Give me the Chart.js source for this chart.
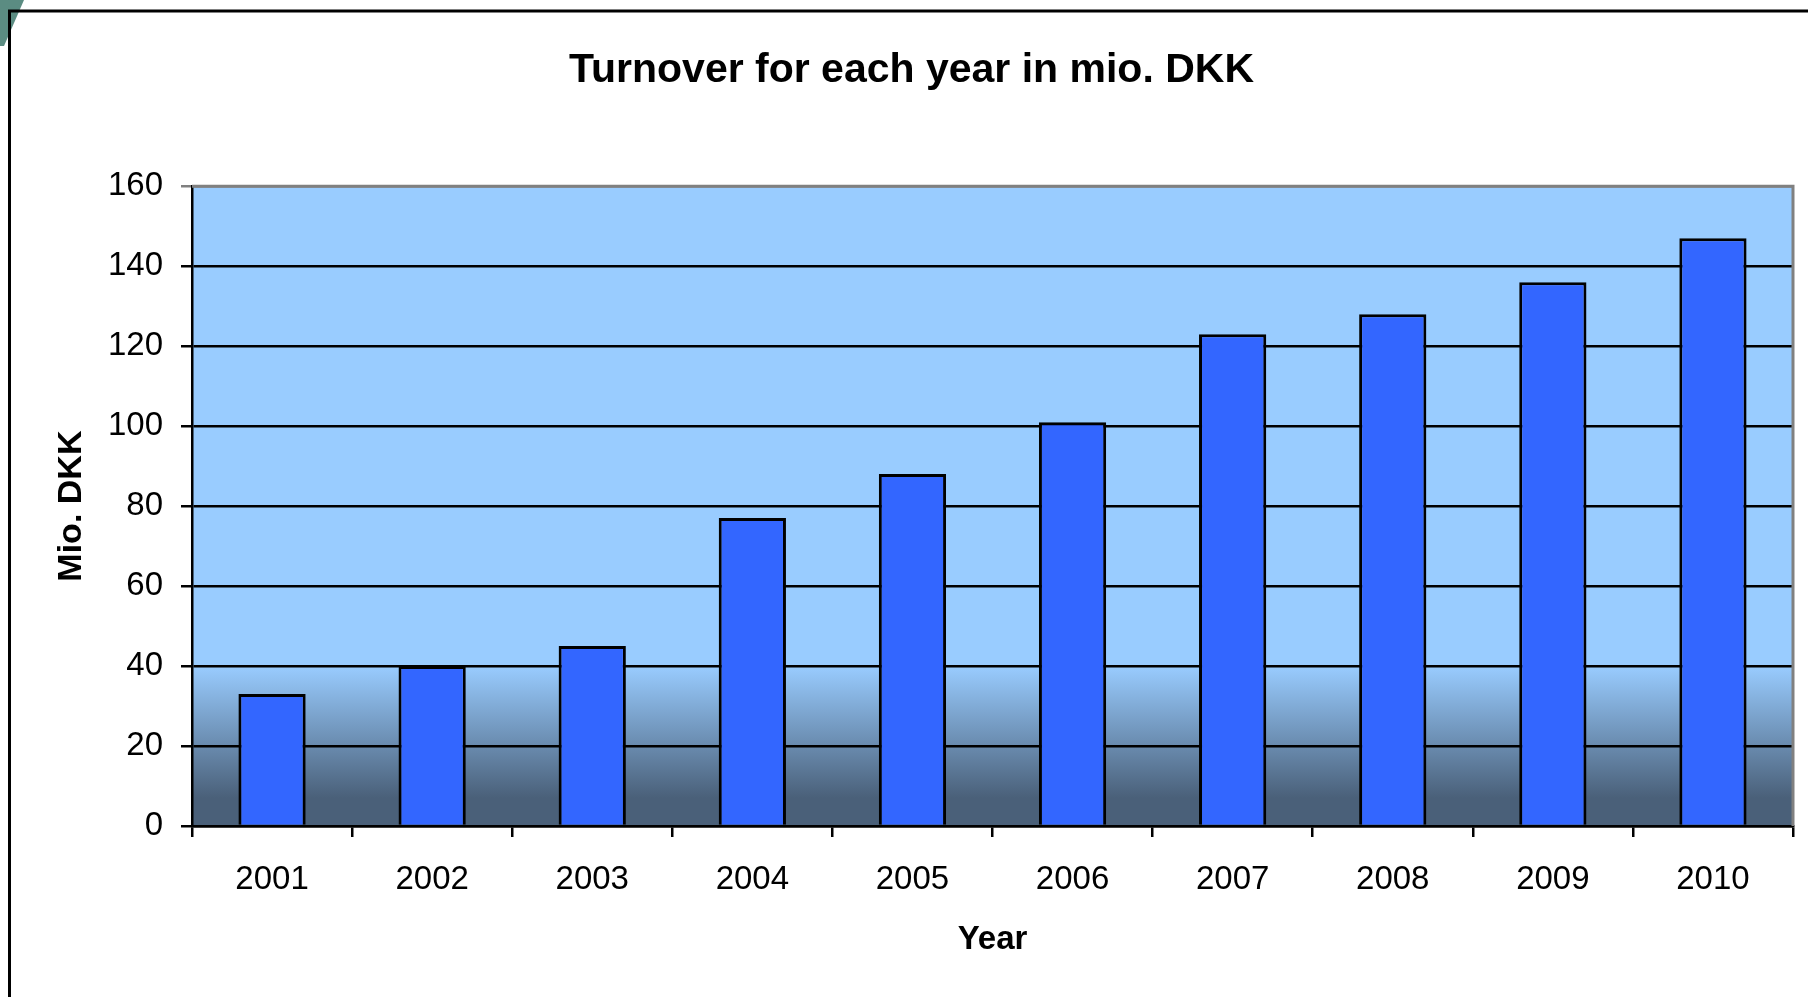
<!DOCTYPE html>
<html>
<head>
<meta charset="utf-8">
<title>Turnover for each year in mio. DKK</title>
<script src="https://cdn.jsdelivr.net/npm/chart.js@4.4.1/dist/chart.umd.min.js"></script>
<style>
    body { margin: 0; background: #ffffff; }
    canvas { display: block; }
</style>
</head>
<body>
<canvas id="grafico" width="1808" height="997"></canvas>
<script>
// omsaetning pr. aar
const years = ['2001', '2002', '2003', '2004', '2005', '2006', '2007', '2008', '2009', '2010']
const turnover = [33, 40, 45, 77, 88, 101, 123, 128, 136, 147]
const yTicks = [0, 20, 40, 60, 80, 100, 120, 140, 160]

const fuente = "'Liberation Sans', Arial, sans-serif"

// marco de la diapositiva + fondo con degradado del area
const fondo = {
    id: 'fondo',
    beforeDraw(chart) {
        const c = chart.ctx
        const area = chart.chartArea
        const y = chart.scales.y
        c.save()
        c.fillStyle = '#ffffff'
        c.fillRect(0, 0, chart.width, chart.height)

        // esquina verde
        c.fillStyle = '#5b8c82'
        c.beginPath()
        c.moveTo(0, 0)
        c.lineTo(24, 0)
        c.lineTo(4, 46)
        c.lineTo(0, 46)
        c.closePath()
        c.fill()

        // marco
        c.strokeStyle = '#000000'
        c.lineWidth = 3
        c.beginPath()
        c.moveTo(9.5, chart.height)
        c.lineTo(9.5, 11)
        c.lineTo(chart.width, 11)
        c.stroke()

        // degradado
        const g = c.createLinearGradient(0, y.getPixelForValue(40), 0, y.getPixelForValue(7))
        g.addColorStop(0, '#99ccff')
        g.addColorStop(1, '#4a6079')
        c.fillStyle = g
        c.fillRect(area.left, area.top, area.right - area.left, area.bottom - area.top)
        c.restore()
    },
    afterDatasetsDraw(chart) {
        const c = chart.ctx
        const area = chart.chartArea
        c.save()
        c.strokeStyle = '#808080'
        c.lineWidth = 3
        c.beginPath()
        c.moveTo(area.left, area.top)
        c.lineTo(area.right, area.top)
        c.lineTo(area.right, area.bottom)
        c.stroke()
        c.restore()
    }
}

const ctx = document.getElementById('grafico')

const myChart = new Chart(ctx, {
    type: 'bar',
    data: {
        labels: years,
        datasets: [{
            label: 'Mio. DKK',
            data: turnover,
            backgroundColor: '#3366ff',
            borderColor: '#000000',
            borderWidth: 3,
            barPercentage: 0.42,
            categoryPercentage: 1
        }]
    },
    options: {
        responsive: false,
        animation: false,
        layout: {
            padding: { left: 30, right: 15, top: 0, bottom: 0 }
        },
        plugins: {
            legend: { display: false },
            tooltip: { enabled: false },
            title: {
                display: true,
                text: 'Turnover for each year in mio. DKK',
                color: '#000000',
                font: { family: fuente, size: 41, weight: 'bold' },
                padding: { top: 46, bottom: 91 }
            }
        },
        scales: {
            x: {
                grid: {
                    offset: true,
                    drawOnChartArea: false,
                    drawTicks: true,
                    tickLength: 11,
                    color: '#000000',
                    lineWidth: 2.5
                },
                border: { color: '#000000', width: 2.5 },
                ticks: {
                    color: '#000000',
                    font: { family: fuente, size: 33 },
                    padding: 23,
                    maxRotation: 0
                },
                title: {
                    display: true,
                    text: 'Year',
                    color: '#000000',
                    font: { family: fuente, size: 33, weight: 'bold' },
                    padding: { top: 0, bottom: 37 }
                },
                afterFit(scale) {
                    scale.height = 171
                }
            },
            y: {
                min: 0,
                max: 160,
                afterBuildTicks(scale) {
                    scale.ticks = yTicks.map(v => ({ value: v }))
                },
                grid: {
                    color: ctx => ctx.tick && ctx.tick.value === 160 ? '#808080' : '#000000',
                    lineWidth: 2.5,
                    tickLength: 11
                },
                border: { color: '#000000', width: 2.5 },
                ticks: {
                    color: '#000000',
                    font: { family: fuente, size: 33 },
                    padding: 18
                },
                title: {
                    display: true,
                    text: 'Mio. DKK',
                    color: '#000000',
                    font: { family: fuente, size: 34, weight: 'bold' },
                    padding: { top: 21, bottom: 0 }
                },
                afterFit(scale) {
                    scale.width = 162
                }
            }
        }
    },
    plugins: [fondo]
})
</script>
</body>
</html>
